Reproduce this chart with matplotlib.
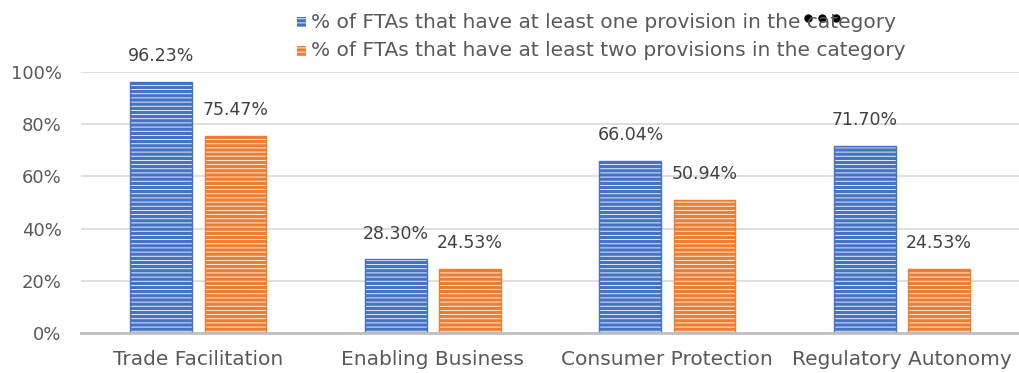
import matplotlib
matplotlib.use("Agg")
import matplotlib.pyplot as plt
from matplotlib.patches import Rectangle
from matplotlib.lines import Line2D
import numpy as np

categories = ["Trade Facilitation", "Enabling Business", "Consumer Protection", "Regulatory Autonomy"]
at_least_one = [96.23, 28.30, 66.04, 71.70]
at_least_two = [75.47, 24.53, 50.94, 24.53]
series_names = ["% of FTAs that have at least one provision in the category",
                "% of FTAs that have at least two provisions in the category"]
y_ticks = [0, 20, 40, 60, 80, 100]

plt.rcParams["font.family"] = ["DejaVu Sans"]
plt.rcParams["hatch.linewidth"] = 0.6
TEXT = "#595959"
BLUE = "#4472C4"
ORANGE = "#ED7D31"

fig = plt.figure(figsize=(10.19, 3.73), dpi=100)
ax = fig.add_axes([0.0795, 0.1072, 0.9205, 0.6997])

x = np.arange(len(categories))
width = 0.264
offsets = [-0.157, 0.159]
for vals, off, col in [(at_least_one, offsets[0], BLUE), (at_least_two, offsets[1], ORANGE)]:
    # striped fill: thin white hatch lines over the solid colour
    ax.bar(x + off, vals, width, color=col, edgecolor="white", linewidth=0,
           hatch="----", zorder=3)
    # solid outline
    ax.bar(x + off, vals, width, facecolor="none", edgecolor=col, linewidth=1.0, zorder=4)
    for xi, v in zip(x + off, vals):
        ax.text(xi, v + 9.8, f"{v:.2f}%", ha="center", va="center", fontsize=12.5, color="#404040")

ax.set_xlim(-0.5, 3.5)
ax.set_ylim(0, 100)
ax.set_yticks(y_ticks)
ax.set_yticklabels([f"{t}%" for t in y_ticks])
ax.set_xticks(x)
ax.set_xticklabels(categories)
ax.tick_params(axis="both", length=0, labelcolor=TEXT)
ax.tick_params(axis="y", pad=14, labelsize=13)
ax.tick_params(axis="x", pad=12, labelsize=14.5)
ax.grid(axis="y", color="#D9D9D9", linewidth=1.2, zorder=0)
ax.set_axisbelow(True)
for s in ["top", "right", "left"]:
    ax.spines[s].set_visible(False)
ax.spines["bottom"].set_color("#BFBFBF")
ax.spines["bottom"].set_linewidth(2)
ax.spines["bottom"].set_zorder(5)

# legend entries
for i, (name, col) in enumerate(zip(series_names, [BLUE, ORANGE])):
    yfig = 1 - (22 + 29 * i) / 373
    fig.patches.append(Rectangle((297 / 1019, yfig - 5 / 373), 9 / 1019, 10 / 373,
                                 transform=fig.transFigure, facecolor=col, edgecolor="white",
                                 linewidth=0, hatch="----"))
    fig.text(311 / 1019, yfig, name, ha="left", va="center", fontsize=14.5, color=TEXT)

# three-dot overlay
fig.add_artist(Line2D([808 / 1019, 822 / 1019, 836 / 1019], [1 - 18 / 373] * 3,
                      transform=fig.transFigure, linestyle="none",
                      marker="o", markersize=5, color="black"))

fig.savefig("out.png", dpi=100)
